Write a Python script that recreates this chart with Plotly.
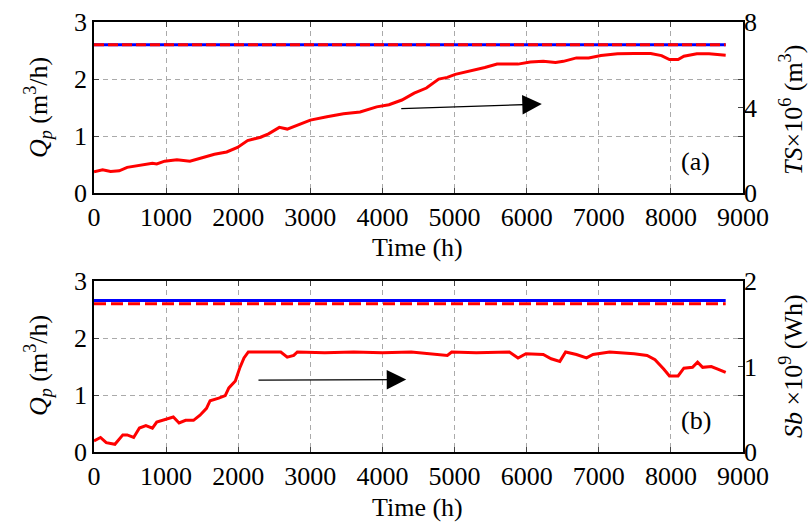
import plotly.graph_objects as go

# ---------------- data ----------------
# panel (a): storage TS (x10^6 m^3), right axis
time_a = [0, 120, 230, 350, 460, 690, 810, 870, 980, 1150, 1330, 1500, 1670, 1840, 1990,
          2130, 2310, 2420, 2570, 2680, 2820, 3000, 3230, 3460, 3690, 3920, 4090, 4270,
          4440, 4610, 4780, 4900, 5010, 5190, 5420, 5590, 5760, 5880, 6050, 6230, 6400,
          6510, 6690, 6860, 7030, 7260, 7490, 7720, 7870, 7980, 8100, 8180, 8360, 8530, 8760]
ts_a = [0.99, 1.09, 1.01, 1.04, 1.20, 1.31, 1.39, 1.36, 1.49, 1.55, 1.49, 1.65, 1.81, 1.92, 2.13,
        2.45, 2.61, 2.77, 3.07, 2.99, 3.17, 3.41, 3.57, 3.71, 3.79, 4.03, 4.13, 4.35,
        4.67, 4.91, 5.33, 5.41, 5.55, 5.68, 5.87, 6.03, 6.05, 6.03, 6.13, 6.16, 6.11,
        6.16, 6.32, 6.32, 6.43, 6.51, 6.53, 6.53, 6.43, 6.24, 6.24, 6.40, 6.51, 6.51, 6.45]

# panel (b): Sb (x10^9 Wh), right axis
time_b = [0, 90, 170, 290, 400, 460, 550, 630, 720, 810, 870, 980, 1100, 1180, 1270, 1380,
          1470, 1560, 1610, 1730, 1820, 1870, 1960, 2020, 2080, 2140, 2310, 2590, 2680, 2770,
          2820, 3200, 3600, 4000, 4400, 4900, 4960, 5300, 5760, 5880, 5990, 6230, 6340, 6460,
          6540, 6690, 6830, 6920, 7150, 7490, 7670, 7780, 7900, 7980, 8100, 8180, 8300, 8370,
          8440, 8560, 8650, 8760]
sb_b = [0.13, 0.17, 0.11, 0.09, 0.20, 0.20, 0.17, 0.28, 0.31, 0.28, 0.35, 0.38, 0.41, 0.34, 0.37, 0.37,
        0.43, 0.51, 0.60, 0.63, 0.66, 0.75, 0.83, 0.98, 1.10, 1.17, 1.17, 1.17, 1.11, 1.13,
        1.17, 1.16, 1.17, 1.16, 1.17, 1.13, 1.17, 1.16, 1.17, 1.10, 1.15, 1.14, 1.09, 1.06,
        1.17, 1.14, 1.10, 1.14, 1.17, 1.15, 1.13, 1.08, 0.97, 0.89, 0.89, 0.98, 0.99, 1.05,
        0.99, 1.00, 0.97, 0.93]

line_x = [0, 8760]
qp_max_a = [2.6, 2.6]
qp_lim_a = [2.6, 2.6]
qp_max_b = [2.66, 2.66]
qp_lim_b = [2.6, 2.6]

x_ticks = [0, 1000, 2000, 3000, 4000, 5000, 6000, 7000, 8000, 9000]

FONT = "Liberation Serif, Times New Roman, Times, serif"
FS = 26
RED = "#FF0000"
BLUE = "#0000FF"
GRID = "#AAAAAA"

fig = go.Figure()

# top panel
fig.add_trace(go.Scatter(x=line_x, y=qp_max_a, mode="lines", line=dict(color=BLUE, width=3),
                         xaxis="x", yaxis="y", showlegend=False))
fig.add_trace(go.Scatter(x=line_x, y=qp_lim_a, mode="lines",
                         line=dict(color=RED, width=3, dash="10px,4px"),
                         xaxis="x", yaxis="y", showlegend=False))
fig.add_trace(go.Scatter(x=time_a, y=ts_a, mode="lines", line=dict(color=RED, width=3),
                         xaxis="x", yaxis="y2", showlegend=False))

# bottom panel
fig.add_trace(go.Scatter(x=line_x, y=qp_max_b, mode="lines", line=dict(color=BLUE, width=3),
                         xaxis="x2", yaxis="y3", showlegend=False))
fig.add_trace(go.Scatter(x=line_x, y=qp_lim_b, mode="lines",
                         line=dict(color=RED, width=3, dash="12px,5px"),
                         xaxis="x2", yaxis="y3", showlegend=False))
fig.add_trace(go.Scatter(x=time_b, y=sb_b, mode="lines", line=dict(color=RED, width=3),
                         xaxis="x2", yaxis="y4", showlegend=False))

W, H = 809, 522
xl, xr = 94, 743
dom_x = [xl / W, xr / W]
top_dom = [1 - 193 / H, 1 - 22 / H]
bot_dom = [1 - 452 / H, 1 - 281 / H]

tf = dict(family=FONT, size=FS, color="black")
xcommon = dict(range=[0, 9000], tickvals=x_ticks, ticks="inside", ticklen=5,
               showline=True, linecolor="black", linewidth=1.5, mirror="ticks",
               showgrid=True, gridcolor=GRID, griddash="5px,4px", gridwidth=1,
               zeroline=False, tickfont=tf, automargin=False,
               domain=dom_x, ticklabelstandoff=0)
ycommon = dict(range=[0, 3], tickvals=[0, 1, 2, 3], ticks="inside", ticklen=5,
               showline=True, linecolor="black", linewidth=1.5, mirror="ticks",
               showgrid=True, gridcolor=GRID, griddash="5px,4px", gridwidth=1,
               zeroline=False, tickfont=tf, automargin=False, ticklabelstandoff=0)
y2common = dict(ticks="inside", ticklen=5, showline=False, showgrid=False, zeroline=False,
                side="right", tickfont=tf, automargin=False, ticklabelstandoff=0)

fig.update_layout(
    template="none",
    width=W, height=H, margin=dict(l=0, r=0, t=0, b=0, pad=0),
    paper_bgcolor="white", plot_bgcolor="white",
    font=dict(family=FONT, size=FS, color="black"),
    xaxis=dict(anchor="y", **xcommon),
    yaxis=dict(anchor="x", domain=top_dom, **ycommon),
    yaxis2=dict(anchor="x", overlaying="y", range=[0, 8], tickvals=[0, 4, 8], **y2common),
    xaxis2=dict(anchor="y3", **xcommon),
    yaxis3=dict(anchor="x2", domain=bot_dom, **ycommon),
    yaxis4=dict(anchor="x2", overlaying="y3", range=[0, 2], tickvals=[0, 1, 2], **y2common),
)

ann = []
# arrows
ann.append(dict(x=6210, y=1.56, ax=4240, ay=1.48, xref="x", yref="y", axref="x", ayref="y",
                showarrow=True, arrowhead=2, arrowsize=3, arrowwidth=1.3, arrowcolor="black", text=""))
ann.append(dict(x=4330, y=1.27, ax=2260, ay=1.26, xref="x2", yref="y3", axref="x2", ayref="y3",
                showarrow=True, arrowhead=2, arrowsize=3, arrowwidth=1.3, arrowcolor="black", text=""))
# panel labels
ann.append(dict(x=8340, y=0.55, xref="x", yref="y", text="(a)", showarrow=False,
                font=dict(family=FONT, size=FS)))
ann.append(dict(x=8345, y=0.56, xref="x2", yref="y3", text="(b)", showarrow=False,
                font=dict(family=FONT, size=FS)))
# axis titles
def pt(px, py, text, angle=0):
    return dict(x=px / W, y=1 - py / H, xref="paper", yref="paper", text=text, showarrow=False,
                textangle=angle, xanchor="center", yanchor="middle",
                font=dict(family=FONT, size=FS, color="black"))

ann.append(pt(417, 247, "Time (h)"))
ann.append(pt(417, 507, "Time (h)"))
ann.append(pt(38, 108, "<i>Q<sub>p</sub></i> (m<sup>3</sup>/h)", -90))
ann.append(pt(38, 366, "<i>Q<sub>p</sub></i> (m<sup>3</sup>/h)", -90))
ann.append(pt(791, 110, "<i>TS</i>×10<sup>6</sup> (m<sup>3</sup>)", -90))
ann.append(pt(791, 366, "<i>Sb</i> ×10<sup>9</sup> (Wh)", -90))
fig.update_layout(annotations=ann)

fig.write_html("out.html")
